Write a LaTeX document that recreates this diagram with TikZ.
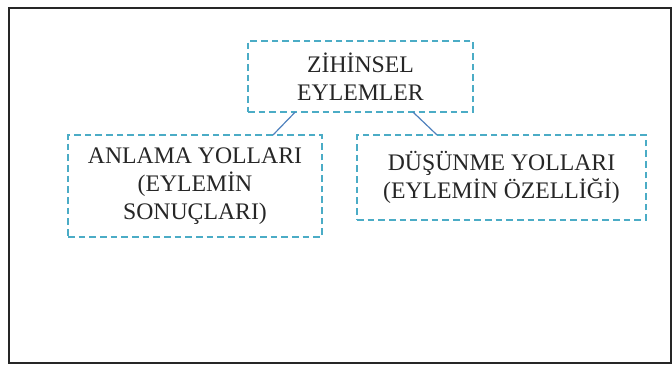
\documentclass[tikz,border=0pt]{standalone}
\usepackage{fontspec}
\setmainfont{Liberation Serif}
\usetikzlibrary{calc}
\definecolor{boxblue}{RGB}{75,172,198}
\definecolor{linkblue}{RGB}{79,129,189}
\begin{document}
\begin{tikzpicture}[x=0.75pt,y=-0.75pt,
  box/.style={draw=boxblue,line width=1pt,dash pattern=on 5pt off 3pt,inner sep=0pt,outer sep=0pt,
    align=center,font=\fontsize{17.8}{21}\selectfont,text=black!85},
  link/.style={draw=linkblue,line width=0.9pt}]
\useasboundingbox (0,0) rectangle (672,365);
\draw[line width=1.6pt,black!85] (9,8) rectangle (671,363);
\node[box,minimum width=168.75pt,minimum height=53.25pt] (top) at (360.5,76.5) {ZİHİNSEL\\EYLEMLER};
\node[box,minimum width=190.5pt,minimum height=76.5pt] (left) at (195,186) {ANLAMA YOLLARI\\(EYLEMİN\\SONUÇLARI)};
\node[box,minimum width=216.75pt,minimum height=63.75pt] (right) at (501.5,177.5) {DÜŞÜNME YOLLARI\\(EYLEMİN ÖZELLİĞİ)};
\draw[link] ($(top.south west)!0.21!(top.south east)$) -- ($(left.north west)!0.807!(left.north east)$);
\draw[link] ($(top.south west)!0.733!(top.south east)$) -- ($(right.north west)!0.277!(right.north east)$);
\end{tikzpicture}
\end{document}
